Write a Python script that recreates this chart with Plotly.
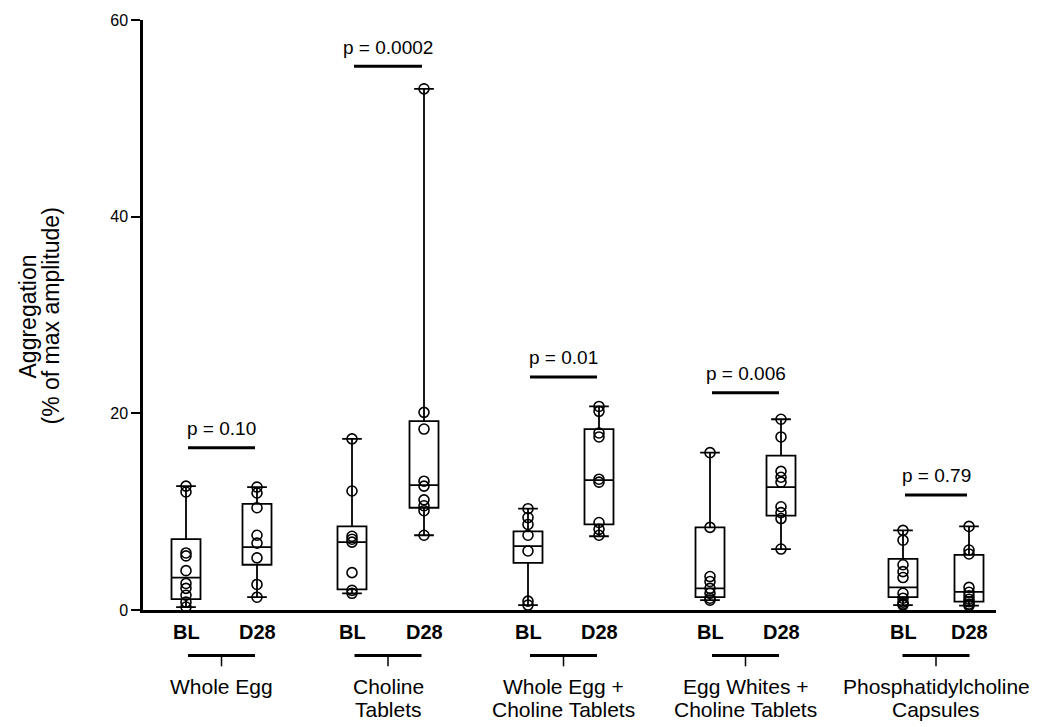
import plotly.graph_objects as go

# ---------------- data ----------------
group_lines = [["Whole Egg"], ["Choline", "Tablets"], ["Whole Egg +", "Choline Tablets"],
               ["Egg Whites +", "Choline Tablets"], ["Phosphatidylcholine", "Capsules"]]
timepoints = ["BL", "D28"]
p_labels = ["p = 0.10", "p = 0.0002", "p = 0.01", "p = 0.006", "p = 0.79"]

# individual observations (% of max amplitude)
bl_points = [
    [12.6, 12.0, 5.8, 5.5, 4.0, 2.7, 2.2, 1.5, 0.8, 0.3],
    [17.4, 12.1, 7.5, 7.2, 6.9, 3.8, 2.0, 1.7],
    [10.3, 9.4, 8.7, 7.6, 6.0, 0.9, 0.5],
    [16.0, 8.4, 3.4, 2.9, 2.2, 1.7, 1.2, 1.0],
    [8.1, 7.1, 4.6, 3.9, 3.3, 1.7, 1.2, 0.8, 0.6, 0.5],
]
d28_points = [
    [12.5, 11.9, 10.4, 7.6, 6.8, 5.3, 2.6, 1.3],
    [53.0, 20.1, 18.4, 13.1, 12.6, 11.2, 10.6, 10.1, 7.6],
    [20.7, 20.2, 18.0, 17.6, 13.3, 13.0, 8.9, 8.2, 7.6],
    [19.4, 17.6, 14.1, 13.5, 13.0, 10.5, 9.9, 9.3, 6.2],
    [8.5, 6.1, 5.7, 2.3, 1.8, 1.45, 1.1, 0.85, 0.6, 0.45],
]

# box statistics
bl_min = [0.3, 1.7, 0.5, 1.0, 0.5]
bl_q1 = [1.1, 2.1, 4.8, 1.3, 1.3]
bl_median = [3.3, 6.9, 6.5, 2.2, 2.3]
bl_q3 = [7.2, 8.5, 8.0, 8.4, 5.2]
bl_max = [12.6, 17.4, 10.3, 16.0, 8.1]

d28_min = [1.3, 7.6, 7.5, 6.2, 0.45]
d28_q1 = [4.6, 10.4, 8.7, 9.6, 0.85]
d28_median = [6.4, 12.7, 13.2, 12.5, 1.85]
d28_q3 = [10.8, 19.2, 18.4, 15.7, 5.6]
d28_max = [12.5, 53.0, 20.7, 19.4, 8.5]

# ---------------- layout positions ----------------
bl_x = [186, 352, 528, 710, 903]
d28_x = [257, 424, 599, 781, 969]
bracket_y = [16.5, 55.3, 23.7, 22.1, 11.7]

W, H = 1037, 727
ML, MR, MT, MB = 143, 41, 13, 117
X0, X1 = ML, W - MR
Y0, Y1 = MT, H - MB
FONT = "Liberation Sans, Arial, Helvetica, sans-serif"


def ypap(py):
    return (Y1 - py) / (Y1 - Y0)


def xpap(px):
    return (px - X0) / (X1 - X0)


fig = go.Figure()

box_style = dict(width=29, whiskerwidth=0.68, boxpoints=False,
                 line=dict(color="black", width=1.8),
                 fillcolor="rgba(0,0,0,0)", showlegend=False, hoverinfo="skip")
marker_style = dict(symbol="circle-open", size=10, color="black", line=dict(width=1.6, color="black"))

for i in range(len(group_lines)):
    for xs, mn, q1, md, q3, mx, pts in [
        (bl_x[i], bl_min[i], bl_q1[i], bl_median[i], bl_q3[i], bl_max[i], bl_points[i]),
        (d28_x[i], d28_min[i], d28_q1[i], d28_median[i], d28_q3[i], d28_max[i], d28_points[i]),
    ]:
        fig.add_trace(go.Box(x=[xs], lowerfence=[mn], q1=[q1], median=[md], q3=[q3],
                             upperfence=[mx], **box_style))
        fig.add_trace(go.Scatter(x=[xs] * len(pts), y=pts, mode="markers", marker=marker_style,
                                 showlegend=False, cliponaxis=False, hoverinfo="skip"))

shapes = []
annotations = []
for i in range(len(group_lines)):
    # significance bracket
    shapes.append(dict(type="line", xref="x", yref="y", x0=bl_x[i] + 2, x1=d28_x[i] - 2,
                       y0=bracket_y[i], y1=bracket_y[i], line=dict(color="black", width=3)))
    annotations.append(dict(xref="x", yref="y", x=(bl_x[i] + d28_x[i]) / 2, y=bracket_y[i],
                            text=p_labels[i], showarrow=False, yanchor="middle", yshift=19,
                            font=dict(family=FONT, size=19, color="black")))
    # BL / D28 labels
    for xs, t in zip([bl_x[i], d28_x[i]], timepoints):
        annotations.append(dict(xref="x", yref="paper", x=xs, y=ypap(632), text="<b>%s</b>" % t,
                                showarrow=False, yanchor="middle",
                                font=dict(family=FONT, size=20, color="black")))
    # group bracket
    c = (bl_x[i] + d28_x[i]) / 2
    shapes.append(dict(type="line", xref="x", yref="paper", x0=c - 33.5, x1=c + 33.5,
                       y0=ypap(656), y1=ypap(656), line=dict(color="black", width=3)))
    shapes.append(dict(type="line", xref="x", yref="paper", x0=c, x1=c,
                       y0=ypap(656), y1=ypap(667), line=dict(color="black", width=1.5)))
    for j, line_text in enumerate(group_lines[i]):
        annotations.append(dict(xref="x", yref="paper", x=c, y=ypap(687 + 24 * j), text=line_text,
                                showarrow=False, yanchor="middle",
                                font=dict(family=FONT, size=21, color="black")))

# y axis title (two lines)
for txt, px in [("Aggregation", 28), ("(% of max amplitude)", 51)]:
    annotations.append(dict(xref="paper", yref="paper", x=xpap(px), y=ypap(313), text=txt,
                            textangle=-90, showarrow=False, xanchor="center", yanchor="middle",
                            font=dict(family=FONT, size=23, color="black")))

fig.update_layout(
    width=W, height=H,
    margin=dict(l=ML, r=MR, t=MT, b=MB, pad=0),
    paper_bgcolor="white", plot_bgcolor="white",
    boxmode="overlay",
    shapes=shapes, annotations=annotations,
    font=dict(family=FONT, color="black"),
    xaxis=dict(range=[X0, X1], showgrid=False, zeroline=False, showticklabels=False,
               ticks="", showline=True, linecolor="black", linewidth=3, fixedrange=True),
    yaxis=dict(range=[0, 60], tickvals=[0, 20, 40, 60], ticks="outside", ticklen=9,
               tickwidth=2, tickcolor="black", showgrid=False, zeroline=False,
               showline=True, linecolor="black", linewidth=2.5,
               tickfont=dict(family=FONT, size=16, color="black"), fixedrange=True),
)

fig.write_html("out.html", config={"displayModeBar": False},
               post_script="document.body.style.margin='0';document.body.style.overflow='hidden';")
